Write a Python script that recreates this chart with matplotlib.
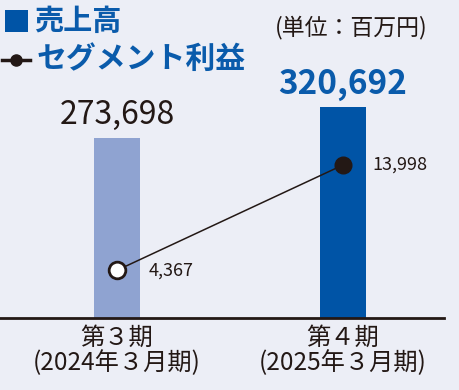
import matplotlib.pyplot as plt
from matplotlib.patches import Rectangle
from matplotlib.lines import Line2D

plt.rcParams['font.family'] = ['Noto Sans CJK JP', 'DejaVu Sans']

periods = ["第３期\n(2024年３月期)", "第４期\n(2025年３月期)"]
sales = [273698, 320692]
segment_profit = [4367, 13998]

bg = "#eceef6"
bar_colors = ["#8fa3d1", "#0054a6"]
ink = "#231815"
blue = "#0a5bab"

W, H = 460, 390
fig = plt.figure(figsize=(W / 100, H / 100), dpi=100, facecolor=bg)

def fx(px):
    return px / W

def fy(py):
    return 1 - py / H

# axes: left 0px, right 444px, baseline 318px, top 68px
ax = fig.add_axes([fx(0), fy(318), fx(444), (318 - 68) / H])
ax.set_facecolor("none")
x = [0, 1]
ax.bar(x, sales, width=0.2, color=bar_colors, zorder=1)
ax.set_xlim(-0.518, 1.447)
ax.set_ylim(0, 320692 * 250 / 211)
ax.set_xticks(x)
ax.set_xticklabels(periods, fontsize=17.5, color=ink, linespacing=0.95)
ax.tick_params(axis='x', length=0, pad=5)
ax.set_yticks([])
for s in ["top", "right", "left"]:
    ax.spines[s].set_visible(False)
ax.spines["bottom"].set_linewidth(2)
ax.spines["bottom"].set_color(ink)

ax.text(0, sales[0] + 10000, f"{sales[0]:,}", ha="center", va="bottom",
        fontsize=23, color=ink)
ax.text(1, sales[1] + 9000, f"{sales[1]:,}", ha="center", va="bottom",
        fontsize=24, color=blue, fontweight="bold")

ax2 = ax.twinx()
ax2.set_ylim(0, 13998 * 250 / 153)
ax2.set_yticks([])
for s in ax2.spines.values():
    s.set_visible(False)
ax2.plot(x, segment_profit, color=ink, linewidth=1.1, zorder=3)
ax2.plot(x[0], segment_profit[0], marker="o", markersize=12, markerfacecolor="white",
         markeredgecolor=ink, markeredgewidth=2, zorder=4)
ax2.plot(x[1], segment_profit[1], marker="o", markersize=12, markerfacecolor=ink,
         markeredgecolor=ink, zorder=4)
ax2.annotate(f"{segment_profit[0]:,}", (x[0], segment_profit[0]), xytext=(23, 0),
             textcoords="offset points", va="center", fontsize=13, color=ink)
ax2.annotate(f"{segment_profit[1]:,}", (x[1], segment_profit[1]), xytext=(21, 0),
             textcoords="offset points", va="center", fontsize=13, color=ink)

# legend / header
fig.add_artist(Rectangle((fx(5), fy(32)), fx(23), (32 - 10) / H,
                         facecolor="#0054a6", edgecolor="none"))
fig.text(fx(34), fy(21), "売上高", fontsize=21, fontweight="bold", color=blue, va="center")
fig.add_artist(Line2D([fx(2), fx(30)], [fy(60), fy(60)], color=ink, linewidth=2.5))
fig.add_artist(Line2D([fx(16)], [fy(60)], marker="o", markersize=8, color=ink))
fig.text(fx(37), fy(59), "セグメント利益", fontsize=21.5, fontweight="bold", color=blue, va="center")
fig.text(fx(351), fy(27), "(単位：百万円)", fontsize=16.5, color=ink, ha="center", va="center")

fig.savefig("out.png", dpi=100, facecolor=bg)
